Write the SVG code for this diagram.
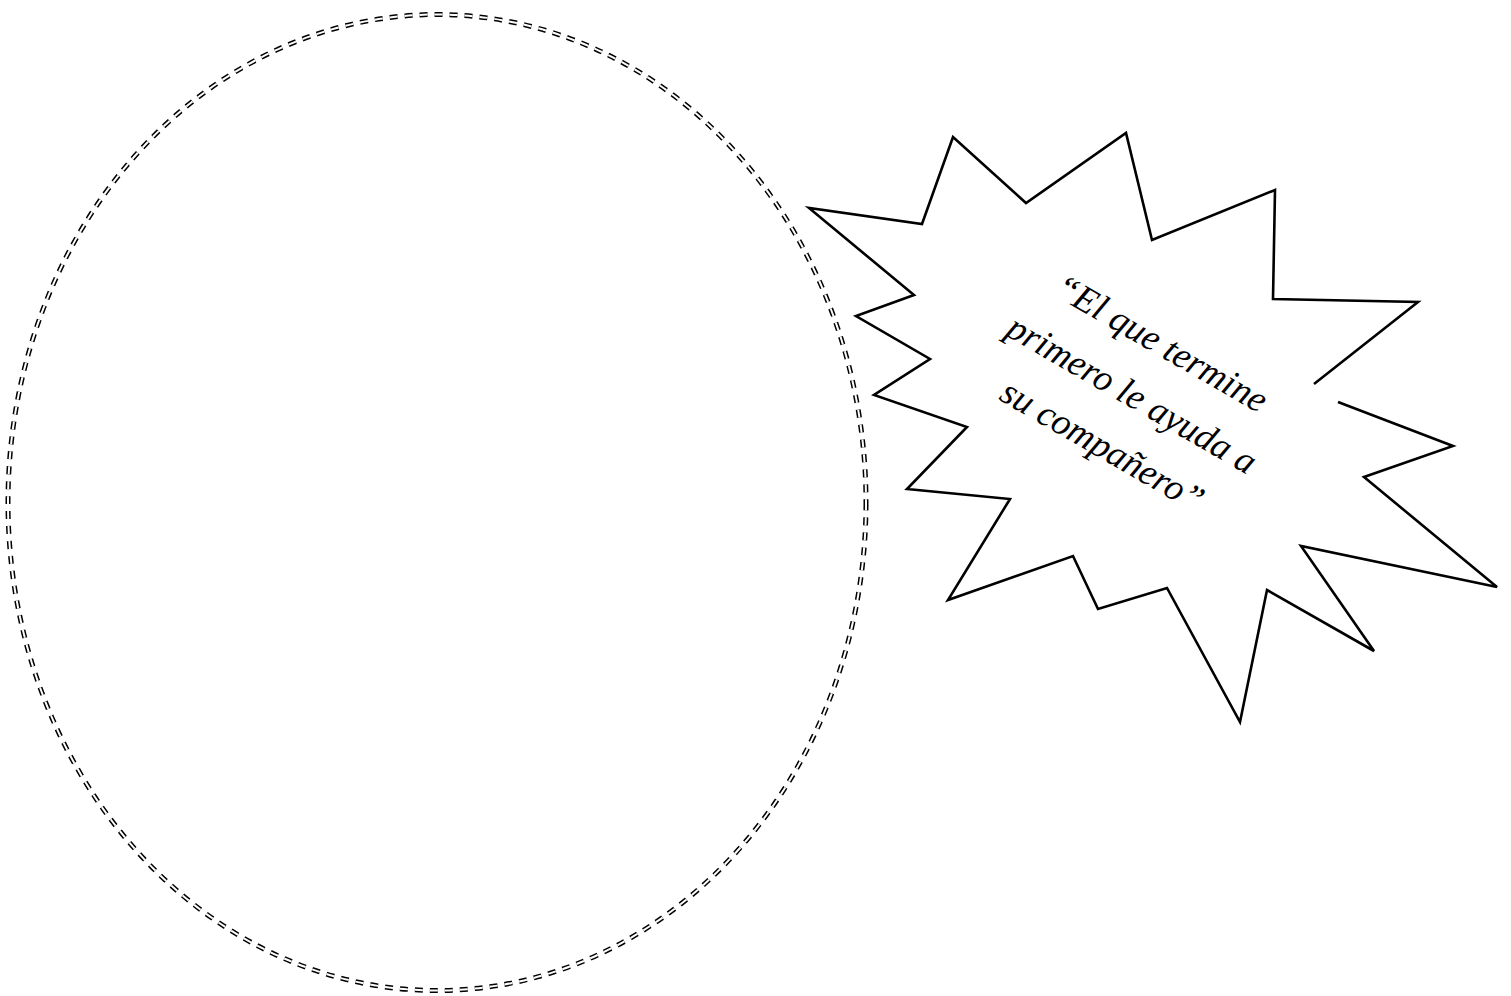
<svg xmlns="http://www.w3.org/2000/svg" width="1511" height="996" viewBox="0 0 1511 996">
<style>
.outer{fill:none;stroke:#000;stroke-width:5;stroke-dasharray:8 7}
.inner{fill:none;stroke:#fff;stroke-width:2;stroke-dasharray:8 7}
.star{fill:#fff;stroke:#000;stroke-width:2.6;stroke-linejoin:miter}
.lbl{font-family:"Liberation Serif",serif;font-style:italic;font-size:37px;fill:#000;text-anchor:middle}
</style>
<rect width="1511" height="996" fill="#fff"/>
<g id="circle">
<ellipse class="outer" cx="437" cy="502.5" rx="429" ry="488"/>
<ellipse class="inner" cx="437" cy="502.5" rx="429" ry="488"/>
</g>
<g id="burst">
<path class="star" d="M1314,384 L1418,302 L1273,299 L1275,190 L1152,240 L1126,133 L1026,203 L953,137 L922,224 L809,208 L914,295 L856,316 L930,359 L874,395 L967,427 L907,489 L1010,499 L948,600 L1073,556 L1098,609 L1167,588 L1240,722 L1267,590 L1374,651 L1301,546 L1497,587 L1364,477 L1453,446 L1338,402"/>
<g transform="translate(1130,398) rotate(30)">
<text class="lbl" x="0" y="-51">“El que termine</text>
<text class="lbl" x="0" y="8">primero le ayuda a</text>
<text class="lbl" x="0" y="67">su compañero”</text>
</g>
</g>
</svg>
